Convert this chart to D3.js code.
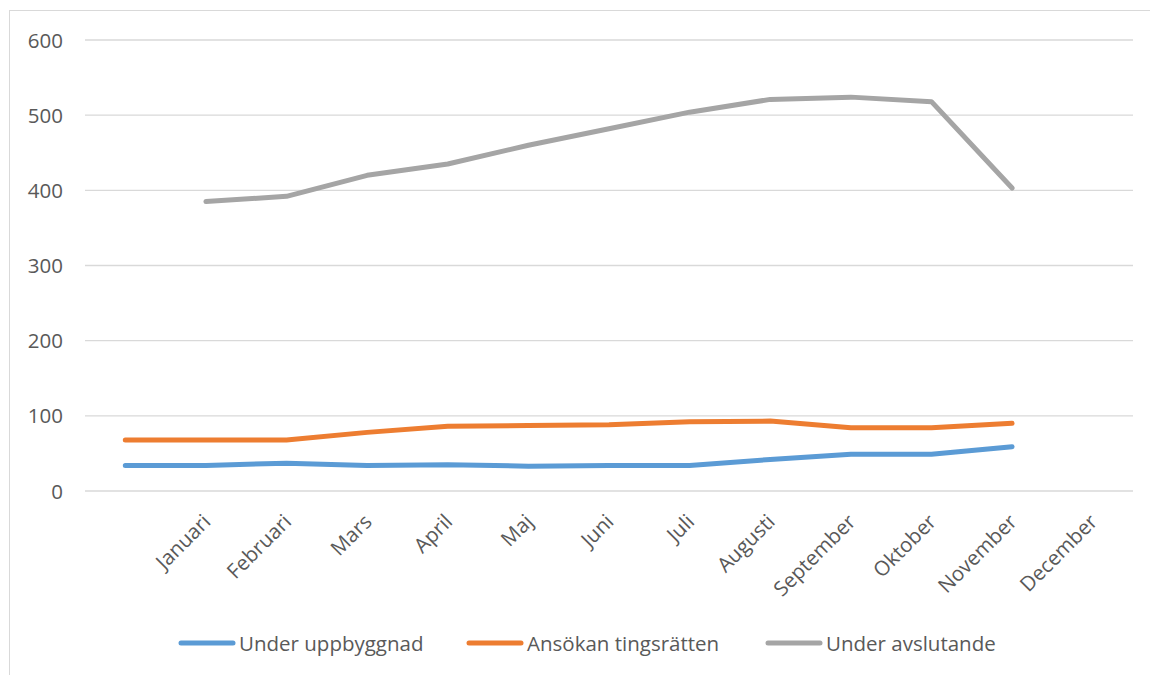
<!DOCTYPE html>
<html>
<head>
<meta charset="utf-8">
<script src="https://cdn.jsdelivr.net/npm/d3@7"></script>
<style>
  body { margin: 0; background: #fff; }
  text { font-family: "Open Sans", sans-serif; fill: #595959; }
</style>
</head>
<body>
<script>
// Canvas size
const w = 1150;
const h = 675;

// Categories (first slot has no label)
const months = ["", "Januari", "Februari", "Mars", "April", "Maj", "Juni",
  "Juli", "Augusti", "September", "Oktober", "November", "December"];

// Series values (null = no value)
const underUppbyggnad = [34, 34, 37, 34, 35, 33, 34, 34, 42, 49, 49, 59, null];
const ansokanTingsratten = [68, 68, 68, 78, 86, 87, 88, 92, 93, 84, 84, 90, null];
const underAvslutande = [null, 385, 392, 420, 435, 460, 482, 504, 521, 524, 518, 403, null];

const yTicks = [0, 100, 200, 300, 400, 500, 600];

const series = [
  { name: "Under uppbyggnad", values: underUppbyggnad, color: "#5B9BD5" },
  { name: "Ansökan tingsrätten", values: ansokanTingsratten, color: "#ED7D31" },
  { name: "Under avslutande", values: underAvslutande, color: "#A5A5A5" }
];

const svg = d3.select("body").append("svg").attr("width", w).attr("height", h);

// chart border
svg.append("rect")
  .attr("x", 9.5).attr("y", 10.5)
  .attr("width", w).attr("height", h)
  .attr("fill", "none").attr("stroke", "#d9d9d9").attr("stroke-width", 1);

const x = d3.scaleBand().domain(months).range([85, 1133]);
const y = d3.scaleLinear().domain([0, 600]).range([491, 40]);

// gridlines
svg.selectAll("line.grid")
  .data(yTicks)
  .enter()
  .append("line")
  .attr("x1", 85).attr("x2", 1133)
  .attr("y1", d => y(d)).attr("y2", d => y(d))
  .attr("stroke", "#d9d9d9").attr("stroke-width", 1.3);

// y labels
svg.selectAll("text.ylab")
  .data(yTicks)
  .enter()
  .append("text")
  .attr("x", 63)
  .attr("y", d => y(d) + 7.5)
  .attr("text-anchor", "end")
  .style("font-size", "20.5px")
  .text(d => d);

// x labels, rotated
svg.selectAll("text.xlab")
  .data(months.filter(m => m !== ""))
  .enter()
  .append("text")
  .attr("text-anchor", "end")
  .attr("transform", d => "translate(" + (x(d) + x.bandwidth() / 2 + 6) + ",523) rotate(-45)")
  .style("font-size", "20.5px")
  .text(d => d);

// lines
const line = d3.line()
  .defined(d => d.v !== null)
  .x(d => x(d.m) + x.bandwidth() / 2)
  .y(d => y(d.v));

series.forEach(function (s) {
  const pts = months.map((m, i) => ({ m: m, v: s.values[i] }));
  svg.append("path")
    .datum(pts)
    .attr("d", line)
    .attr("fill", "none")
    .attr("stroke", s.color)
    .attr("stroke-width", 5)
    .attr("stroke-linecap", "round")
    .attr("stroke-linejoin", "round");
});

// legend
const legendX = [181, 469, 768];
series.forEach(function (s, i) {
  svg.append("line")
    .attr("x1", legendX[i]).attr("x2", legendX[i] + 52)
    .attr("y1", 643).attr("y2", 643)
    .attr("stroke", s.color)
    .attr("stroke-width", 5)
    .attr("stroke-linecap", "round");
  svg.append("text")
    .attr("x", legendX[i] + 58)
    .attr("y", 650.5)
    .style("font-size", "20.5px")
    .text(s.name);
});
</script>
</body>
</html>
